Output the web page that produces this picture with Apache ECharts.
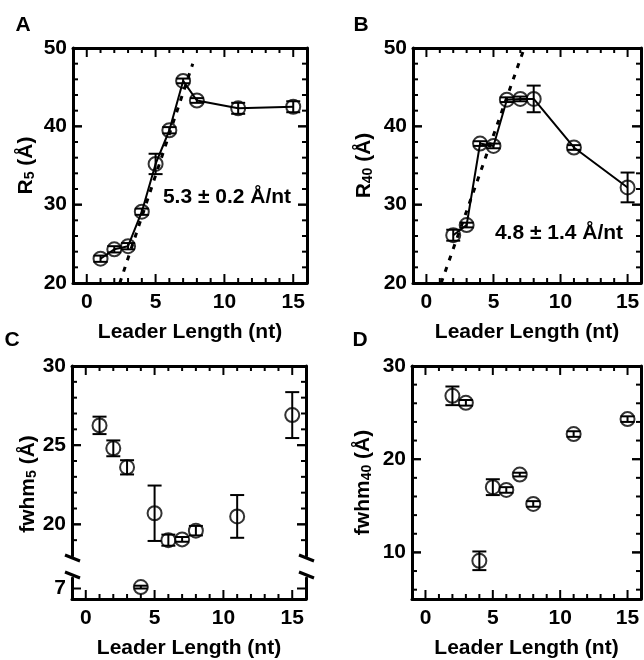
<!DOCTYPE html>
<html lang="en">
<head>
<meta charset="UTF-8">
<title>Leader length</title>
<script src="https://cdn.jsdelivr.net/npm/echarts@6/dist/echarts.min.js"></script>
<style>html,body{margin:0;padding:0;background:#fff;}</style>
</head>
<body>
<div id="main" style="width:644px;height:660px;"></div>
<script>
// leader lengths (nt)
var leaderA = [1, 2, 3, 4, 5, 6, 7, 8, 11, 15];
var leaderB = [2, 3, 4, 5, 6, 7, 8, 11, 15];

// A: R5 (Å) with errors
var r5 = [23.1, 24.3, 24.7, 29.1, 35.2, 39.5, 45.8, 43.3, 42.3, 42.5];
var r5Err = [0.4, 0.4, 0.4, 0.4, 1.3, 0.4, 0.3, 0.3, 0.7, 0.7];
// B: R40 (Å)
var r40 = [26.1, 27.4, 37.8, 37.5, 43.4, 43.5, 43.5, 37.3, 32.2];
var r40Err = [0.7, 0.3, 0.3, 0.3, 0.3, 0.3, 1.7, 0.3, 1.9];
// C: fwhm5 (Å)
var fwhm5 = [26.25, 24.8, 23.6, 7.1, 20.7, 19.0, 19.05, 19.6, 20.5, 26.9];
var fwhm5Err = [0.55, 0.5, 0.45, 0.1, 1.75, 0.35, 0.15, 0.3, 1.35, 1.45];
// D: fwhm40 (Å)
var fwhm40 = [26.8, 26.05, 9.1, 17.0, 16.7, 18.35, 15.2, 22.7, 24.3];
var fwhm40Err = [1.0, 0.3, 1.0, 0.85, 0.3, 0.2, 0.3, 0.3, 0.3];

// linear fits (dotted)
var fitA = [[2.4, 20], [7.7, 48]];
var fitB = [[1.1, 20], [7.3, 50]];

// tick labels
var xTicks = [0, 5, 10, 15];
var rTicks = [20, 30, 40, 50];
var fwhm5Ticks = [20, 25, 30];
var fwhm5LowTicks = [7];
var fwhm40Ticks = [10, 20, 30];

var FONT = '"Liberation Sans", Arial, Helvetica, sans-serif';
var X_MIN = -1, X_MAX = 16;
var grids = [], xAxes = [], yAxes = [], series = [];

function steps(a, b, s) {
    var r = [];
    for (var v = a; v <= b + 1e-9; v += s) r.push(+v.toFixed(2));
    return r;
}
function has(list, v) {
    for (var i = 0; i < list.length; i++) if (Math.abs(list[i] - v) < 1e-6) return true;
    return false;
}

function richName(main, sub) {
    return '{n|' + main + '}{s|' + sub + '}{n| (Å)}';
}
var richStyle = {
    n: {fontFamily: FONT, fontWeight: 'bold', fontSize: 21, color: '#000', verticalAlign: 'bottom', lineHeight: 24},
    s: {fontFamily: FONT, fontWeight: 'bold', fontSize: 14, color: '#000', verticalAlign: 'bottom', lineHeight: 12}
};

// one axis per frame side: line + labels
function side(gi, pos, min, max, step, showLine, labels, name, nameGap) {
    var isX = pos == 'top' || pos == 'bottom';
    var list = isX ? xAxes : yAxes;
    var ax = {
        type: 'value', gridIndex: gi, position: pos, min: min, max: max, interval: step,
        splitLine: {show: false},
        axisLine: {show: showLine, onZero: false, lineStyle: {color: '#000', width: 3}},
        axisTick: {show: false},
        axisLabel: {show: !!labels, margin: isX ? 9 : 6, color: '#000',
            fontFamily: FONT, fontWeight: 'bold', fontSize: 21,
            formatter: function (v) { return labels && has(labels, v) ? String(v) : ''; }}
    };
    if (name) {
        ax.name = name;
        ax.nameLocation = 'middle';
        ax.nameGap = nameGap;
        ax.nameTextStyle = {color: '#000', fontFamily: FONT, fontWeight: 'bold', fontSize: 21, rich: richStyle};
    }
    list.push(ax);
    return list.length - 1;
}

function seg(x1, y1, x2, y2) {
    return {type: 'line', shape: {x1: x1, y1: y1, x2: x2, y2: y2}, style: {stroke: '#000', lineWidth: 2}};
}

function panel(p) {
    grids.push({left: p.left, top: p.top, width: p.width, height: p.height});
    var gi = grids.length - 1;
    var showBottom = p.showBottom !== false, showTop = p.showTop !== false;
    var xi = side(gi, 'bottom', X_MIN, X_MAX, 1, showBottom, showBottom ? xTicks : null, p.xName, 39);
    side(gi, 'top', X_MIN, X_MAX, 1, showTop, null);
    var yi = side(gi, 'left', p.yMin, p.yMax, p.yStep, true, p.yTicks, p.yName, p.yGap);
    side(gi, 'right', p.yMin, p.yMax, p.yStep, true, null);

    // inward frame ticks: one item per tick value, drawn at the frame edges
    // kind 0/1 = x major/minor, 2/3 = y major/minor
    var yMid = (p.yMin + p.yMax) / 2, xMid = (X_MIN + X_MAX) / 2;
    var ticks = [];
    steps(0, 15, 1).forEach(function (v) {
        ticks.push([v, yMid, has(xTicks, v) ? 0 : 1]);
    });
    p.yMinor.concat(p.yTicks).forEach(function (v) {
        if (v > p.yMin + 1e-6 && v < p.yMax - 1e-6) ticks.push([xMid, v, has(p.yTicks, v) ? 2 : 3]);
    });
    series.push({
        type: 'custom', xAxisIndex: xi, yAxisIndex: yi, data: ticks, z: 3, silent: true,
        renderItem: function (params, api) {
            var cs = params.coordSys;
            var kind = api.value(2);
            var pt = api.coord([api.value(0), api.value(1)]);
            var ch = [], len;
            if (kind < 2) {
                len = kind == 0 ? 9 : 5;
                if (showBottom) ch.push(seg(pt[0], cs.y + cs.height, pt[0], cs.y + cs.height - len));
                if (showTop) ch.push(seg(pt[0], cs.y, pt[0], cs.y + len));
            } else {
                len = kind == 2 ? 9 : 5;
                ch.push(seg(cs.x, pt[1], cs.x + len, pt[1]));
                ch.push(seg(cs.x + cs.width, pt[1], cs.x + cs.width - len, pt[1]));
            }
            return {type: 'group', children: ch};
        }
    });
    return {x: xi, y: yi};
}

function errorBars(ax, xs, ys, es, keep) {
    var data = [];
    for (var i = 0; i < xs.length; i++) {
        if (!keep || keep(ys[i])) data.push([xs[i], ys[i], es[i]]);
    }
    series.push({
        type: 'custom', xAxisIndex: ax.x, yAxisIndex: ax.y, data: data, z: 3, silent: true,
        renderItem: function (params, api) {
            var x = api.value(0), y = api.value(1), e = api.value(2);
            var hi = api.coord([x, y + e]), lo = api.coord([x, y - e]);
            var w = 7;
            return {type: 'group', children: [
                seg(hi[0], hi[1], lo[0], lo[1]),
                seg(hi[0] - w, hi[1], hi[0] + w, hi[1]),
                seg(lo[0] - w, lo[1], lo[0] + w, lo[1])
            ]};
        }
    });
    series.push({
        type: 'scatter', xAxisIndex: ax.x, yAxisIndex: ax.y, z: 4, silent: true,
        data: data.map(function (d) { return [d[0], d[1]]; }),
        symbol: 'circle', symbolSize: 14,
        itemStyle: {color: 'rgba(0,0,0,0)', borderColor: '#000', borderWidth: 2}
    });
}

function connect(ax, xs, ys) {
    series.push({
        type: 'line', xAxisIndex: ax.x, yAxisIndex: ax.y, showSymbol: false, silent: true, z: 2,
        data: xs.map(function (x, i) { return [x, ys[i]]; }),
        lineStyle: {color: '#000', width: 2}
    });
}

function fit(ax, pts) {
    series.push({
        type: 'line', xAxisIndex: ax.x, yAxisIndex: ax.y, showSymbol: false, silent: true, z: 2,
        data: pts, lineStyle: {color: '#000', width: 3, type: [5, 7]}
    });
}

// A
var axA = panel({left: 73, top: 48, width: 234, height: 235, yMin: 20, yMax: 50, yStep: 10, yTicks: rTicks,
    yMinor: steps(22, 48, 2), yName: richName('R', '5'), yGap: 36, xName: 'Leader Length (nt)'});
fit(axA, fitA);
connect(axA, leaderA, r5);
errorBars(axA, leaderA, r5, r5Err);

// B
var axB = panel({left: 413, top: 48, width: 232, height: 235, yMin: 20, yMax: 50, yStep: 10, yTicks: rTicks,
    yMinor: steps(22, 48, 2), yName: richName('R', '40'), yGap: 38, xName: 'Leader Length (nt)'});
fit(axB, fitB);
connect(axB, leaderB, r40);
errorBars(axB, leaderB, r40, r40Err);

// C: broken y axis, upper part and lower part
var axC = panel({left: 72, top: 366, width: 234, height: 190, showBottom: false, yMin: 18, yMax: 30, yStep: 1,
    yTicks: fwhm5Ticks, yMinor: steps(19, 29, 1)});
var axC2 = panel({left: 72, top: 578, width: 234, height: 24, showTop: false, yMin: 6.25, yMax: 7.75, yStep: 0.25,
    yTicks: fwhm5LowTicks, yMinor: [], xName: 'Leader Length (nt)'});
errorBars(axC, leaderA, fwhm5, fwhm5Err, function (v) { return v > 12; });
errorBars(axC2, leaderA, fwhm5, fwhm5Err, function (v) { return v <= 12; });

// D
var axD = panel({left: 412, top: 366, width: 232, height: 236, yMin: 5, yMax: 30, yStep: 5, yTicks: fwhm40Ticks,
    yMinor: steps(6, 28, 2), yName: richName('fwhm', '40'), yGap: 38, xName: 'Leader Length (nt)'});
errorBars(axD, leaderB, fwhm40, fwhm40Err);

function label(txt, x, y) {
    return {type: 'text', x: x, y: y, silent: true,
        style: {text: txt, fill: '#000', font: 'bold 21px ' + FONT, align: 'center', verticalAlign: 'middle'}};
}
function brk(x, y) {
    return {type: 'line', silent: true, shape: {x1: x - 7, y1: y - 3, x2: x + 8, y2: y + 3},
        style: {stroke: '#000', lineWidth: 3}};
}

var myChart = echarts.init(document.getElementById('main'));
myChart.setOption({
    animation: false,
    backgroundColor: '#fff',
    grid: grids,
    xAxis: xAxes,
    yAxis: yAxes,
    series: series,
    graphic: [
        label('A', 23, 25), label('B', 361, 25), label('C', 12, 340), label('D', 360, 340),
        label('5.3 ± 0.2 Å/nt', 227, 197), label('4.8 ± 1.4 Å/nt', 559, 233),
        {type: 'text', x: 27, y: 484, rotation: Math.PI / 2, silent: true,
            style: {text: richName('fwhm', '5'), rich: richStyle, align: 'center', verticalAlign: 'middle'}},
        brk(72, 558), brk(72, 575), brk(306, 558), brk(306, 575)
    ]
});
</script>
</body>
</html>
